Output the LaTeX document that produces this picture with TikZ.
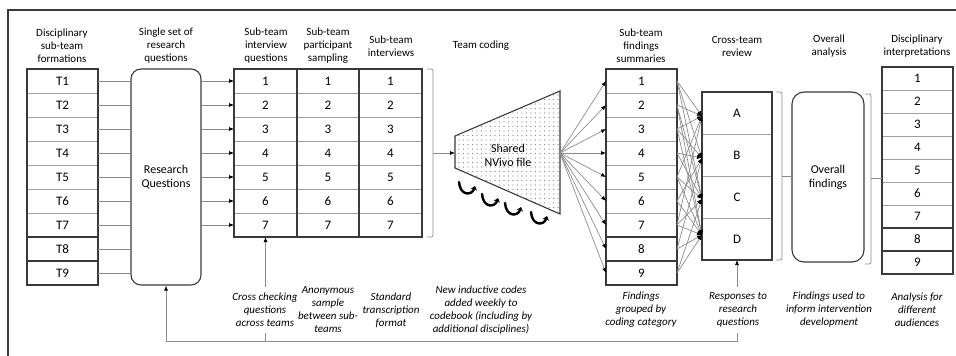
\documentclass[tikz,border=0pt]{standalone}
\usepackage{fontspec}
\setmainfont{Carlito}
\usetikzlibrary{arrows.meta,patterns.meta,calc}
\definecolor{lin}{HTML}{3A3A3A}
\definecolor{gry}{HTML}{A0A0A0}
\definecolor{con}{HTML}{8C8C8C}
\begin{document}
\begin{tikzpicture}[x=1pt,y=-1pt,
  cell/.style={draw=gry, line width=0.8pt, inner sep=0pt, outer sep=0pt, font=\fontsize{13}{15}\selectfont},
  hdr/.style={align=center, font=\fontsize{11}{13}\selectfont, inner sep=0pt},
  captxt/.style={align=center, font=\fontsize{11}{13}\selectfont\itshape, inner sep=0pt},
  outer/.style={draw=lin, line width=1.1pt},
  conn/.style={draw=con, line width=0.7pt},
  arr/.style={conn, -{Latex[length=5pt,width=4pt,color=black]}},
  rbox/.style={draw=lin, line width=1.1pt, align=center, font=\fontsize{12}{14}\selectfont, inner sep=0pt},
  hook/.style={line width=2.4pt, line cap=round, -{Stealth[length=4pt,width=6.5pt]}},
]
\useasboundingbox (0,0) rectangle (956,356);
% frame
\draw[lin, line width=1.6pt] (8,356) -- (8,10) -- (956,10);

% headers
\node[hdr] (h1) at (62,46) {Disciplinary\\sub-team\\formations};
\node[hdr] (h2) at (166,46) {Single set of\\research\\questions};
\node[hdr] (h3) at (266,46) {Sub-team\\interview\\questions};
\node[hdr] (h4) at (328,46) {Sub-team\\participant\\sampling};
\node[hdr] (h5) at (391,46.5) {Sub-team\\interviews};
\node[hdr] (h6) at (481,46) {Team coding};
\node[hdr] (h7) at (641,46) {Sub-team\\findings\\summaries};
\node[hdr] (h8) at (737,46.5) {Cross-team\\review};
\node[hdr] (h9) at (829,46.5) {Overall\\analysis};
\node[hdr] (h10) at (917,46.5) {Disciplinary\\interpretations};

% column 1: teams
\foreach \i in {1,...,9}
  \node[cell, minimum width=71pt, minimum height=24pt] (t\i) at (62.5,{57+24*\i}) {T\i};
\draw[outer] (t1.north west) rectangle (t9.south east);
\draw[outer] (t7.south west) -- (t7.south east);
\draw[outer] (t8.south west) -- (t8.south east);

% research questions
\node[rbox, rounded corners=10pt, minimum width=70pt, minimum height=216pt] (rq) at (166,177) {Research\\Questions};
\foreach \i in {1,...,9}
  \draw[conn] (t\i.east) -- (t\i.east -| rq.west);

% interview table
\foreach \i in {1,...,7} {
  \node[cell, minimum width=63pt, minimum height=24pt] (q\i) at (265.5,{57+24*\i}) {\i};
  \node[cell, minimum width=62pt, minimum height=24pt] (p\i) at (328,{57+24*\i}) {\i};
  \node[cell, minimum width=63pt, minimum height=24pt] (v\i) at (390.5,{57+24*\i}) {\i};
}
\draw[outer] (q1.north west) rectangle (v7.south east);
\draw[outer] (q1.north east) -- (q7.south east);
\draw[outer] (p1.north east) -- (p7.south east);
\foreach \i in {1,...,7}
  \draw[arr] (rq.east |- q\i.west) -- (q\i.west);

% bracket 1
\draw[conn, rounded corners=2pt] (427,69) -- (433,69) -- (433,237) -- (427,237);
\coordinate (b1) at (438,153);
\draw[conn] (433,153) -- (b1);

% trapezoid
\draw[lin, line width=1.1pt, pattern={Dots[distance=4.5pt, radius=0.55pt]}, pattern color=gray] (455,136) -- (560,91) -- (560,214) -- (455,168) -- cycle;
\coordinate (trapL) at (455,153);
\coordinate (tip) at (560,153);
\draw[arr] (b1) -- (trapL);
\node[font=\fontsize{12}{14}\selectfont, align=center, inner sep=1pt] (nv) at (508,155) {Shared\\NVivo file};
\foreach \cx/\cy in {467/188, 490/200, 513/209, 539/218}
  \draw[hook] ({\cx-8},{\cy-6}) .. controls ({\cx-7},{\cy+8}) and ({\cx+5},{\cy+8}) .. ({\cx+8},{\cy-2});

% findings table
\foreach \i in {1,...,9}
  \node[cell, minimum width=71pt, minimum height=24pt] (f\i) at (641.5,{57+24*\i}) {\i};
\draw[outer] (f1.north west) rectangle (f9.south east);
\draw[outer] (f7.south west) -- (f7.south east);
\draw[outer] (f8.south west) -- (f8.south east);
\foreach \i in {1,...,9}
  \draw[arr] (tip) -- (f\i.west);

% cross-team review
\node[cell, minimum width=70pt, minimum height=42pt] (ca) at (737,113) {A};
\node[cell, minimum width=70pt, minimum height=42pt] (cb) at (737,155) {B};
\node[cell, minimum width=70pt, minimum height=42pt] (cc) at (737,197) {C};
\node[cell, minimum width=70pt, minimum height=42pt] (cd) at (737,239) {D};
\draw[outer] (ca.north west) rectangle (cd.south east);
\coordinate (tA) at (702,116);
\coordinate (tB) at (702,158);
\coordinate (tC) at (702,199);
\coordinate (tD) at (702,235);
\foreach \i/\t in {1/A,1/B,1/C,2/A,2/C,2/D,3/A,3/B,3/D,4/B,4/C,5/A,5/C,5/D,6/B,6/D,7/A,7/C,7/D,8/B,8/D,9/C,9/D}
  \draw[arr] (f\i.east) -- (t\t);

% bracket 2
\draw[conn, rounded corners=2pt] (776,92) -- (782,92) -- (782,260) -- (776,260);
\coordinate (b2) at (782,176);

% overall findings
\node[rbox, rounded corners=12pt, minimum width=72pt, minimum height=170pt] (ov) at (828,177) {Overall\\findings};
\draw[conn] (b2) -- (ov.west |- b2);

% bracket 3
\draw[conn, rounded corners=2pt] (865,94) -- (871,94) -- (871,264) -- (865,264);
\coordinate (b3) at (871,178);

% disciplinary interpretations
\foreach \i in {1,...,9}
  \node[cell, minimum width=71pt, minimum height=23pt] (d\i) at (917.5,{55.5+23*\i}) {\i};
\draw[outer] (d1.north west) rectangle (d9.south east);
\draw[outer] (d7.south west) -- (d7.south east);
\draw[outer] (d8.south west) -- (d8.south east);
\draw[conn] (b3) -- (b3 -| d1.west);

% captions
\node[captxt] (c1) at (265,310) {Cross checking\\questions\\across teams};
\node[captxt] (c2) at (328,310) {Anonymous\\sample\\between sub-\\teams};
\node[captxt] (c3) at (391,310) {Standard\\transcription\\format};
\node[captxt] (c4) at (481,310) {New inductive codes\\added weekly to\\codebook (including by\\additional disciplines)};
\node[captxt] (c5) at (641,310) {Findings\\grouped by\\coding category};
\node[captxt] (c6) at (738,310) {Responses to\\research\\questions};
\node[captxt] (c7) at (829,310) {Findings used to\\inform intervention\\development};
\node[captxt] (c8) at (917,310) {Analysis for\\different\\audiences};

% caption arrows and loop
\coordinate (a1) at (265.5,287);
\coordinate (a2) at (737,287);
\draw[arr] (a1) -- (q7.south);
\draw[arr] (a2) -- (cd.south);
\coordinate (l1) at (737,333);
\coordinate (l2) at (265.5,333);
\draw[arr] (l1) -- ++(0,8) -| (rq.south);
\draw[conn] (l2) -- ++(0,8);
\end{tikzpicture}
\end{document}
